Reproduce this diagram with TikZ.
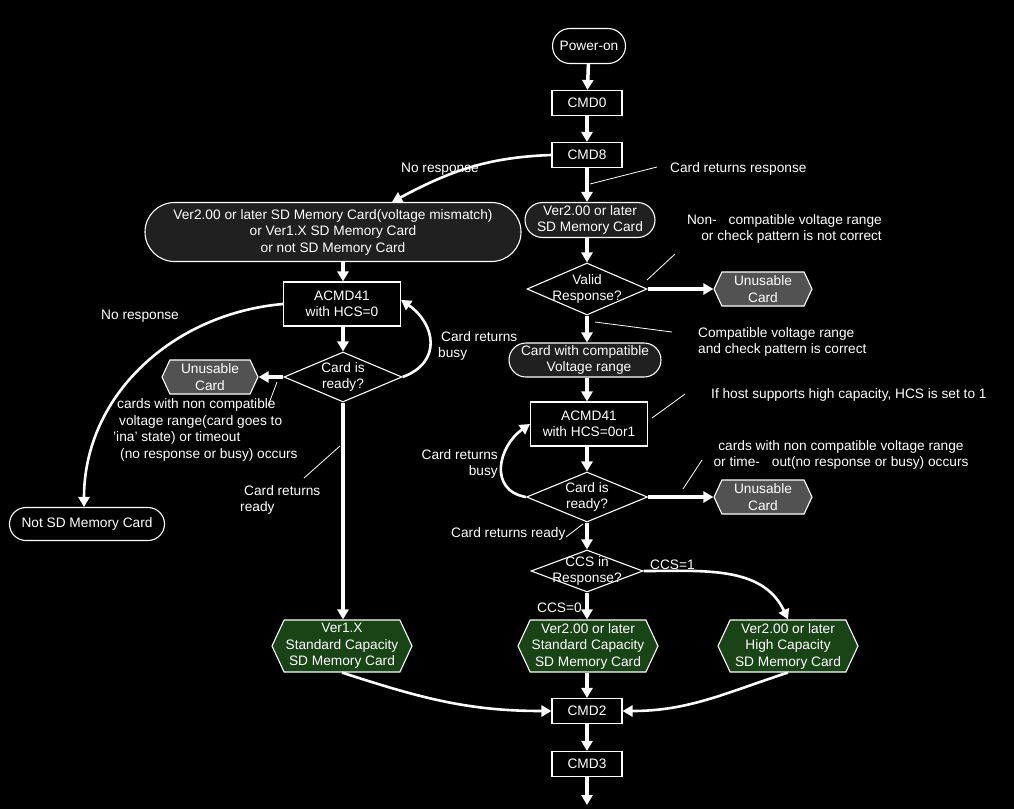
\documentclass[tikz,border=0pt]{standalone}
\usepackage{fontspec}
\setmainfont{Liberation Sans}
\usetikzlibrary{arrows.meta, positioning, shapes.geometric, shapes.misc,
                shapes.symbols}
\definecolor{pillgray}{RGB}{32,32,32}
\definecolor{cardgray}{RGB}{82,82,82}
\definecolor{cardgreen}{RGB}{24,68,22}

\begin{document}
\begin{tikzpicture}[
    x=1pt, y=1pt, >={Triangle[width=11pt,length=10pt]},
    font=\fontsize{13.7}{16.5}\selectfont, text=white,
    every label/.style={align=center},
    cmdbox/.style={draw=white, fill=black, line width=1.1pt,
                   minimum width=70pt, minimum height=25pt, inner sep=0pt},
    acmdbox/.style={cmdbox, minimum width=117pt, minimum height=44pt,
                    align=center},
    pill/.style={rounded rectangle, draw=white, fill=pillgray,
                 line width=1.1pt, inner sep=0pt},
    query/.style={diamond, draw=white, fill=black, line width=1.1pt,
                  inner sep=0pt},
    badcard/.style={signal, signal to=west and east, signal pointer angle=130,
                    draw=white, fill=cardgray, line width=1.1pt,
                    minimum width=98pt, minimum height=34pt, inner sep=0pt},
    goodcard/.style={badcard, fill=cardgreen, minimum width=140pt,
                     minimum height=52pt},
    flow/.style={->, draw=white, line width=3.5pt},
    curve/.style={->, draw=white, line width=2.6pt},
    lead/.style={draw=white, line width=0.8pt},
    note/.style={align=center, inner sep=0pt}
  ]
  \useasboundingbox (0,0) rectangle (1014,-809);
  \fill[black] (0,0) rectangle (1014,-809);

  % main column
  \node[pill, fill=black, minimum width=73pt, minimum height=35pt,
        label={center:Power-on}] (power) at (589,-46) {};
  \node[cmdbox] (cmd0) at (587,-103) {CMD0};
  \node[cmdbox] (cmd8) at (587,-155) {CMD8};
  \node[pill, minimum width=130pt, minimum height=35pt,
        label={center:Ver2.00 or later\\SD Memory Card}] (vtwo) at (590,-220) {};
  \node[query, minimum width=120pt, minimum height=52pt,
        label={center:Valid\\Response?}] (valid) at (587,-289) {};
  \node[badcard, label={center:Unusable\\Card}] (badone) at (763,-289) {};
  \node[pill, minimum width=152pt, minimum height=34pt,
        label={center:Card with compatible\\\hspace{8pt}Voltage range}]
    (compat) at (585,-360) {};
  \node[acmdbox] (acmdr) at (589,-424) {ACMD41\\with HCS=0or1};
  \node[query, minimum width=121pt, minimum height=50pt,
        label={center:Card is\\ready?}] (readyr) at (587,-497) {};
  \node[badcard, label={center:Unusable\\Card}] (badtwo) at (763,-497) {};
  \node[query, minimum width=112pt, minimum height=42pt,
        label={center:CCS in\\Response?}] (ccs) at (587,-571) {};
  \node[goodcard, label={center:Ver2.00 or later\\Standard Capacity\\SD Memory Card}]
    (stdtwo) at (588,-646) {};
  \node[goodcard, label={center:Ver2.00 or later\\High Capacity\\SD Memory Card}]
    (highcap) at (788,-646) {};
  \node[cmdbox] (cmd2) at (587,-711) {CMD2};
  \node[cmdbox] (cmd3) at (587,-764) {CMD3};
  \coordinate (exit) at (587,-805);

  % left column
  \node[pill, minimum width=376pt, minimum height=59pt,
        label={center:Ver2.00 or later SD Memory Card(voltage mismatch)\\
               or Ver1.X SD Memory Card\\or not SD Memory Card}]
    (bigpill) at (333,-232) {};
  \node[acmdbox] (acmdl) at (342,-304) {ACMD41\\with HCS=0};
  \node[query, minimum width=118pt, minimum height=50pt,
        label={center:Card is\\ready?}] (readyl) at (343,-377) {};
  \node[badcard, minimum width=96pt, label={center:Unusable\\Card}]
    (badleft) at (210,-377) {};
  \node[goodcard, label={center:Ver1.X\\Standard Capacity\\SD Memory Card}]
    (verone) at (342,-646) {};
  \node[pill, fill=black, minimum width=155pt, minimum height=33pt,
        label={center:Not SD Memory Card}] (notsd) at (87,-524) {};

  % labels
  \node[note] (noresp) at (440,-169) {No response};
  \node[note, anchor=west] (resp) at (670,-169) {Card returns response};
  \node[note, anchor=east, align=right] (noncomp) at (882,-229)
    {Non-\hspace{12pt}compatible voltage range\\or check pattern is not correct};
  \node[note, anchor=west, align=left] (compok) at (698,-342)
    {Compatible voltage range\\and check pattern is correct};
  \node[note, anchor=west] (hcsone) at (711,-395)
    {If host supports high capacity, HCS is set to 1};
  \node[note] (timeoutr) at (841,-455)
    {cards with non compatible voltage range\\
     or time-\hspace{12pt}out(no response or busy) occurs};
  \node[note, anchor=east, align=right] (busyr) at (498,-464)
    {Card returns\\busy};
  \node[note, anchor=west] (readytxt) at (451,-534) {Card returns ready};
  \node[note, anchor=west] (ccsone) at (650,-565) {CCS=1};
  \node[note, anchor=west] (ccszero) at (537,-608) {CCS=0};
  \node[note, anchor=west] (norespl) at (101,-316) {No response};
  \node[note, anchor=west, align=left] (busyl) at (438,-346)
    {\hspace{3pt}Card returns\\busy};
  \node[note, anchor=west, align=left] (timeoutl) at (113,-430)
    {\hspace{4pt}cards with non compatible\\
     \hspace{6pt}voltage range(card goes to\\
     'ina' state) or timeout\\
     \hspace{7pt}(no response or busy) occurs};
  \node[note, anchor=west, align=left] (readyltxt) at (240,-500)
    {\hspace{4pt}Card returns\\ready};

  % leader lines
  \coordinate (resp a) at (590,-184);   \coordinate (resp b) at (657,-167);
  \coordinate (noncomp a) at (647,-280); \coordinate (noncomp b) at (675,-254);
  \coordinate (compok a) at (595,-322); \coordinate (compok b) at (672,-332);
  \coordinate (hcs a) at (652,-418);    \coordinate (hcs b) at (685,-394);
  \coordinate (tor a) at (683,-489);    \coordinate (tor b) at (702,-460);
  \coordinate (rdy a) at (566,-537);    \coordinate (rdy b) at (583,-524);
  \coordinate (tol a) at (268,-406);    \coordinate (tol b) at (277,-382);
  \coordinate (rdl a) at (304,-478);    \coordinate (rdl b) at (340,-446);
  \draw[lead] (resp a) -- (resp b);
  \draw[lead] (noncomp a) -- (noncomp b);
  \draw[lead] (compok a) -- (compok b);
  \draw[lead] (hcs a) -- (hcs b);
  \draw[lead] (tor a) -- (tor b);
  \draw[lead] (rdy a) -- (rdy b);
  \draw[lead] (tol a) -- (tol b);
  \draw[lead] (rdl a) -- (rdl b);

  % arrows, main column
  \draw[flow] (power) -- (cmd0);
  \draw[flow] (cmd0) -- (cmd8);
  \draw[flow] (cmd8) -- (cmd8 |- vtwo.north);
  \draw[curve] (cmd8.west) to[out=182, in=28] (bigpill.27);
  \draw[flow] (vtwo.south -| valid) -- (valid);
  \draw[flow] (valid) -- (badone);
  \draw[flow] (valid) -- (valid |- compat.north);
  \draw[flow] (compat.south -| readyr) -- (readyr |- acmdr.north);
  \draw[flow] (acmdr.south -| readyr) -- (readyr);
  \draw[curve] (readyr.west) to[out=170, in=215, looseness=1.35] (acmdr.west);
  \draw[flow] (readyr) -- (badtwo);
  \draw[flow] (readyr) -- (ccs);
  \draw[flow] (ccs) -- (ccs |- stdtwo.north);
  \draw[curve] (ccs.east) to[out=0, in=115] (highcap.north);
  \draw[flow] (stdtwo.south -| cmd2) -- (cmd2);
  \draw[curve] (verone.south) to[out=-18, in=180] (cmd2.west);
  \draw[curve] (highcap.south) to[out=198, in=0] (cmd2.east);
  \draw[flow] (cmd2) -- (cmd3);
  \draw[flow] (cmd3) -- (exit);

  % arrows, left column
  \draw[flow] (bigpill.south -| readyl) -- (readyl |- acmdl.north);
  \draw[flow] (acmdl.south -| readyl) -- (readyl);
  \draw[curve] (readyl.east) to[out=20, in=-35, looseness=1.4] (acmdl.4);
  \draw[flow] (readyl) -- (badleft);
  \draw[flow] (readyl) -- (readyl |- verone.north);
  \draw[curve] (acmdl.west) to[out=185, in=90] (notsd.100);
\end{tikzpicture}
\end{document}
